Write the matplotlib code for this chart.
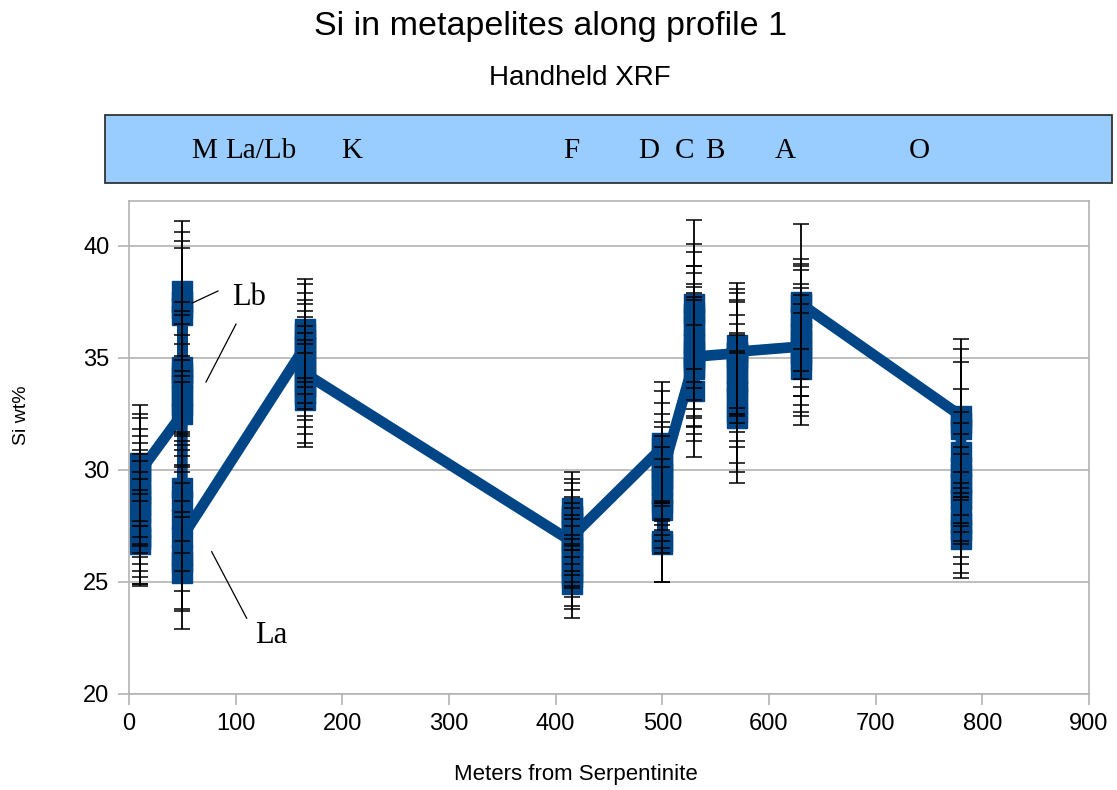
import numpy as np
import matplotlib
matplotlib.use("Agg")
import matplotlib.pyplot as plt
from matplotlib.patches import Rectangle

# Si measurements (wt%) at each sampling site along profile 1, in plotting order
sites = [10, 50, 165, 415, 500, 530, 570, 630, 780]
si_values = [
    [28.6, 27.4, 30.3, 26.7, 28.1, 29.4, 27.0, 28.9, 30.0, 27.7, 29.1, 26.9, 28.4, 29.9],
    [32.5, 33.3, 34.1, 34.6, 33.8, 36.9, 37.5, 38.0, 37.2, 34.3, 32.9, 29.2, 28.6, 27.8, 26.2, 25.4, 25.9, 27.0],
    [35.5, 36.1, 36.3, 35.8, 34.9, 33.7, 33.1, 33.4, 34.0, 35.2, 34.6, 34.3],
    [26.8, 27.6, 28.3, 27.9, 26.1, 25.4, 24.9, 25.7, 26.5, 27.3, 28.0, 25.2, 26.3, 27.0],
    [31.0, 31.2, 30.4, 29.6, 28.9, 28.2, 26.8, 26.7, 28.5, 29.3, 30.1, 29.85],
    [34.9, 35.6, 36.4, 37.0, 37.4, 36.8, 35.9, 34.6, 33.5, 34.5, 35.3, 35.05],
    [35.2, 35.55, 34.8, 33.9, 33.2, 32.3, 32.6, 33.5, 34.3, 35.0, 35.27],
    [35.5, 34.9, 34.5, 35.2, 36.1, 36.8, 37.5, 36.4, 35.8, 37.4],
    [32.4, 31.8, 32.1, 30.8, 30.1, 29.4, 28.7, 28.0, 27.3, 26.9, 27.6, 28.9, 29.8],
]
si_errors = [
    [2.3, 2.2, 2.6, 1.9, 2.3, 2.4, 2.1, 2.3, 2.5, 2.2, 2.4, 2.0, 2.3, 2.4],
    [2.6, 2.7, 2.8, 2.9, 2.7, 3.0, 3.1, 3.1, 3.0, 2.8, 2.7, 2.4, 2.3, 2.3, 2.4, 2.5, 2.2, 2.4],
    [2.1, 2.2, 2.2, 2.1, 2.2, 2.1, 2.1, 2.2, 2.1, 2.2, 2.2, 2.1],
    [1.5, 1.5, 1.6, 1.5, 1.4, 1.5, 1.5, 1.4, 1.5, 1.5, 1.6, 1.4, 1.5, 1.5],
    [2.5, 2.7, 2.6, 2.3, 2.1, 1.9, 1.8, 1.7, 2.0, 2.2, 2.4, 2.3],
    [3.0, 3.2, 3.3, 3.1, 3.75, 2.3, 3.2, 3.0, 2.95, 3.2, 3.0, 3.1],
    [2.7, 2.8, 2.7, 2.6, 2.9, 2.9, 2.7, 2.5, 2.6, 2.6, 2.8],
    [2.6, 2.5, 2.5, 2.6, 2.8, 2.4, 3.45, 2.7, 2.5, 2.0],
    [3.45, 3.0, 3.3, 2.8, 2.5, 2.2, 2.0, 1.9, 1.9, 1.75, 1.8, 2.1, 2.3],
]

# unit labels shown in the header box (position along profile, label)
unit_pos = [70, 124, 209, 415, 487, 521, 549, 615, 741]
unit_names = ["M", "La/Lb", "K", "F", "D", "C", "B", "A", "O"]

x = np.concatenate([[s] * len(v) for s, v in zip(sites, si_values)])
y = np.concatenate(si_values)
err = np.concatenate(si_errors)

blue = "#004586"
grid_gray = "#b3b3b3"

fig = plt.figure(figsize=(11.17, 7.9), dpi=100)
ax = fig.add_axes([0.1155, 0.1219, 0.8594, 0.6237])

ax.plot(x, y, color=blue, lw=7.7, marker="s", ms=14, mec=blue, mfc=blue,
        solid_joinstyle="miter", zorder=2)
ax.errorbar(x, y, yerr=err, fmt="none", ecolor="black", elinewidth=1.3,
            capsize=5.5, capthick=1.1, zorder=3)

ax.set_xlim(0, 900)
ax.set_ylim(20, 42)
ax.set_xticks(np.arange(0, 901, 100))
ax.set_yticks(np.arange(20, 41, 5))
ax.yaxis.grid(True, color=grid_gray, lw=1.2)
ax.set_axisbelow(True)
for sp in ax.spines.values():
    sp.set_color(grid_gray)
    sp.set_linewidth(1.2)
ax.tick_params(axis="both", colors=grid_gray, labelcolor="black",
               labelsize=17, length=8, width=1.2, pad=6)
for lab in ax.get_xticklabels() + ax.get_yticklabels():
    lab.set_family("Liberation Sans")

# Lb / La call-outs
serif = "Liberation Serif"
ax.plot([83.4, 59.1], [37.98, 37.44], color="black", lw=0.9, zorder=4)
ax.plot([100.3, 72.2], [36.5, 33.92], color="black", lw=0.9, zorder=4)
ax.plot([77.5, 110.3], [26.34, 23.37], color="black", lw=0.9, zorder=4)
ax.text(97, 37.7, "Lb", family=serif, fontsize=22, va="center", ha="left")
ax.text(118, 22.6, "La", family=serif, fontsize=22, va="center", ha="left")

# header box with unit labels
box = Rectangle((0.094, 0.768), 0.9015, 0.086, transform=fig.transFigure,
                facecolor="#99ccff", edgecolor="#333333", lw=1.3)
fig.patches.append(box)
for pos, name in zip(unit_pos, unit_names):
    fx = (129 + pos * 960 / 900) / 1117
    fig.text(fx, 0.809, name, family=serif, fontsize=21, ha="center", va="center")

fig.text(0.493, 0.966, "Si in metapelites along profile 1", family="Liberation Sans",
         fontsize=24.5, ha="center", va="center")
fig.text(0.519, 0.901, "Handheld XRF", family="Liberation Sans",
         fontsize=20, ha="center", va="center")
fig.text(0.019, 0.475, "Si wt%", family="Liberation Sans", fontsize=14,
         rotation=90, ha="center", va="center")
fig.text(0.516, 0.019, "Meters from Serpentinite", family="Liberation Sans",
         fontsize=16, ha="center", va="center")

fig.savefig("out.png", dpi=100)
